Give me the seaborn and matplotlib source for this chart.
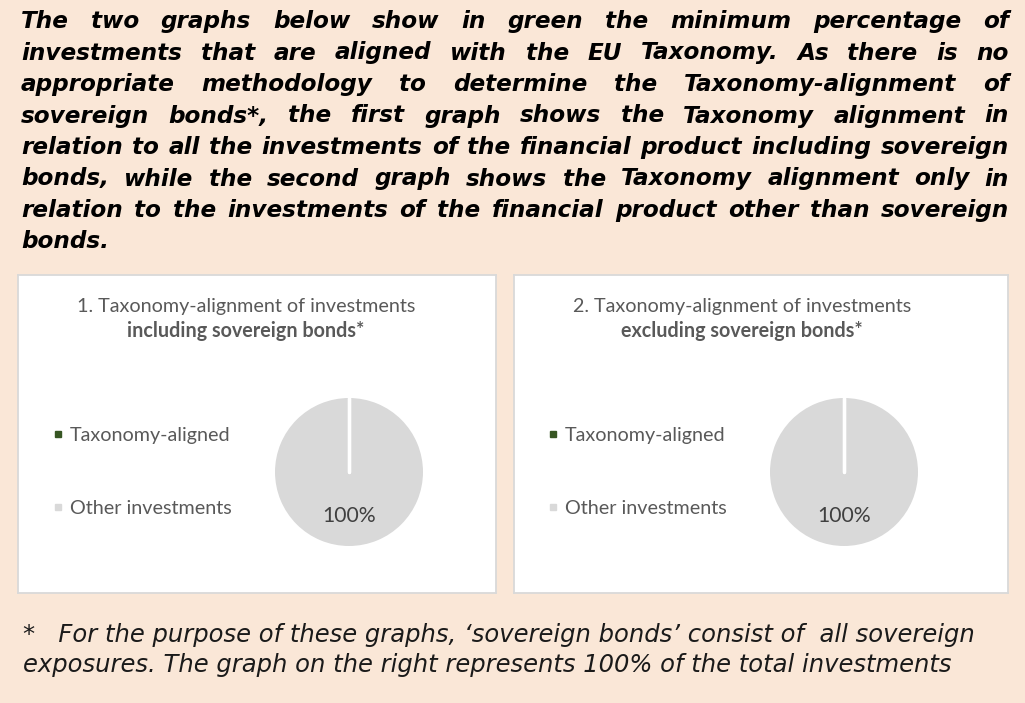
import matplotlib
matplotlib.use("Agg")
import numpy as np
import matplotlib.pyplot as plt
import seaborn as sns
from matplotlib.lines import Line2D

# ---- data ----
categories = ["Taxonomy-aligned", "Other investments"]
incl_sovereign = [0, 100]
excl_sovereign = [0, 100]
chart_titles = [
    ("1. Taxonomy-alignment of investments", "including sovereign bonds*"),
    ("2. Taxonomy-alignment of investments", "excluding sovereign bonds*"),
]
intro_lines = [
    "The two graphs below show in green the minimum percentage of",
    "investments that are aligned with the EU Taxonomy. As there is no",
    "appropriate methodology to determine the Taxonomy-alignment of",
    "sovereign bonds*, the first graph shows the Taxonomy alignment in",
    "relation to all the investments of the financial product including sovereign",
    "bonds, while the second graph shows the Taxonomy alignment only in",
    "relation to the investments of the financial product other than sovereign",
    "bonds.",
]
footnote_lines = [
    "*   For the purpose of these graphs, \u2018sovereign bonds\u2019 consist of  all sovereign",
    "exposures. The graph on the right represents 100% of the total investments",
]

# ---- style ----
sns.set_theme(style="white")
plt.rcParams["font.family"] = ["Lato", "DejaVu Sans"]
colors = sns.color_palette(["#375623", "#D9D9D9"])
bg = "#FAE7D7"
grey_txt = "#595959"

W, H = 1025, 703
fig = plt.figure(figsize=(W / 100, H / 100), dpi=100, facecolor=bg)
renderer = fig.canvas.get_renderer()


def fx(px):
    return px / W


def fy(py):
    return 1 - py / H


def text_width(s, **kw):
    t = fig.text(0, 0, s, **kw)
    w = t.get_window_extent(renderer).width
    t.remove()
    return w


def fit_size(s, target, **kw):
    w = text_width(s, fontsize=10, **kw)
    return 10 * target / w


def justified(lines, x0, x1, baselines, **kw):
    space = text_width("a a", **kw) - text_width("aa", **kw)
    for i, (line, yb) in enumerate(zip(lines, baselines)):
        words = line.split()
        texts = [fig.text(0, fy(yb), w, va="baseline", **kw) for w in words]
        widths = [t.get_window_extent(renderer).width for t in texts]
        if i == len(lines) - 1 or len(words) == 1:
            gap = space
        else:
            gap = (x1 - x0 - sum(widths)) / (len(words) - 1)
        x = x0
        for t, w in zip(texts, widths):
            t.set_x(fx(x))
            x += w + gap


# intro paragraph: bold italic, justified
intro_kw = dict(family="DejaVu Sans", fontweight="bold", fontstyle="oblique", color="black")
intro_kw["fontsize"] = fit_size(intro_lines[4], 975, **intro_kw)
justified(intro_lines, 21, 1009, [28 + 31.5 * i for i in range(len(intro_lines))], **intro_kw)

# footnote
foot_kw = dict(family="DejaVu Sans", fontstyle="oblique", color="#1a1a1a")
foot_kw["fontsize"] = fit_size(footnote_lines[1], 925, **foot_kw)
for line, yb in zip(footnote_lines, [642, 672]):
    fig.text(fx(23), fy(yb), line, va="baseline", **foot_kw)

# ---- the two chart panels ----
panels = [(18, 496), (514, 1008)]
pie_cx = [349, 844]
title_cx = [246, 742]
legend_x = [58, 553]
panel_top, panel_bot = 275, 593
pie_cy, R = 472, 74
fs = 14.2

for k, values in enumerate([incl_sovereign, excl_sovereign]):
    x0, x1 = panels[k]
    pax = fig.add_axes([fx(x0), fy(panel_bot), fx(x1 - x0), (panel_bot - panel_top) / H])
    pax.set_facecolor("white")
    pax.set_xticks([])
    pax.set_yticks([])
    for sp in pax.spines.values():
        sp.set_color("#D9D9D9")
        sp.set_linewidth(1.3)

    l1, l2 = chart_titles[k]
    fig.text(fx(title_cx[k]), fy(312), l1, ha="center", va="baseline",
             fontsize=fs, color=grey_txt)
    fig.text(fx(title_cx[k]), fy(337), l2, ha="center", va="baseline",
             fontsize=fs, fontweight="bold", color=grey_txt)

    ax = fig.add_axes([fx(pie_cx[k] - R), fy(pie_cy + R), fx(2 * R), 2 * R / H])
    wedges, _, _ = ax.pie(values, colors=colors, startangle=90, counterclock=False,
                          autopct=lambda p: f"{p:.0f}%" if p > 0 else "", pctdistance=0.6,
                          wedgeprops=dict(edgecolor="white", linewidth=0),
                          textprops=dict(fontsize=fs + 1, color="#404040"))
    # white separators along the wedge boundaries
    for w in wedges:
        a = np.deg2rad(w.theta1)
        ax.plot([0, np.cos(a)], [0, np.sin(a)], color="white", lw=2.4,
                solid_capstyle="round", zorder=5)
    ax.set_xlim(-1, 1)
    ax.set_ylim(-1, 1)
    ax.set_aspect("equal")
    ax.axis("off")

    handles = [Line2D([], [], linestyle="none", marker="s", markersize=5,
                      markerfacecolor=c, markeredgecolor=c) for c in colors]
    fpx = fs * 100 / 72
    hl = 0.7
    leg = pax.legend(handles, categories, loc="center left",
                     bbox_to_anchor=(fx(legend_x[k] - hl * fpx / 2), fy(pie_cy)),
                     bbox_transform=fig.transFigure, frameon=False,
                     fontsize=fs, handlelength=hl, handletextpad=(12 - hl * fpx / 2) / fpx,
                     labelspacing=2.85, borderpad=0, borderaxespad=0)
    for t in leg.get_texts():
        t.set_color(grey_txt)

fig.savefig("out.png", dpi=100, facecolor=bg)
